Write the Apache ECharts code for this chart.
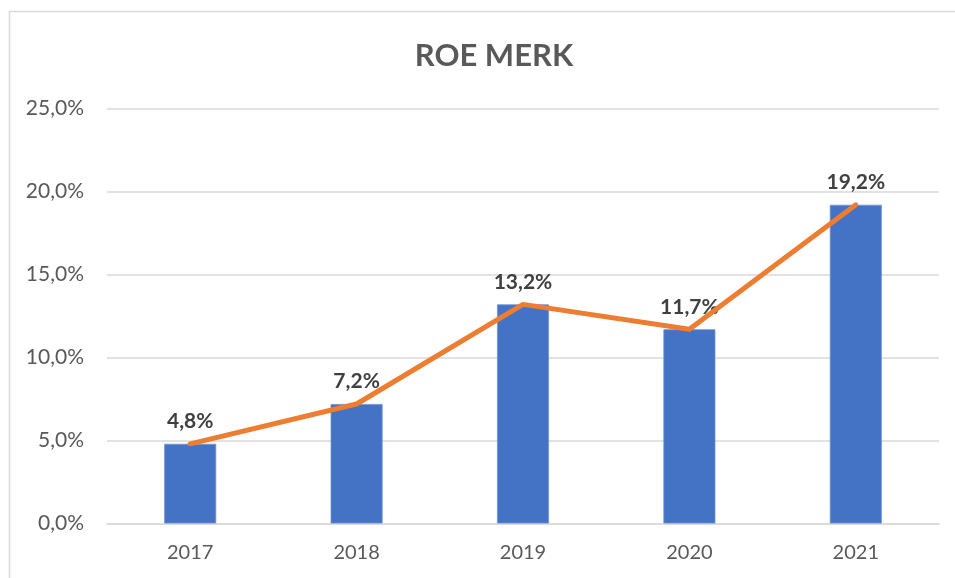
<!DOCTYPE html>
<html>
<head>
<meta charset="utf-8">
<script src="https://cdn.jsdelivr.net/npm/echarts@6/dist/echarts.min.js"></script>
<style>
html,body{margin:0;padding:0;background:#fff;}
#c{width:955px;height:578px;}
</style>
</head>
<body>
<div id="c"></div>
<script>
var categories = ['2017', '2018', '2019', '2020', '2021'];
var roeBars = [4.8, 7.2, 13.2, 11.7, 19.2];
var roeLine = [4.8, 7.2, 13.2, 11.7, 19.2];
var yTicks = [0, 5, 10, 15, 20, 25];

function pct(v) { return v.toFixed(1).replace('.', ',') + '%'; }

var chart = echarts.init(document.getElementById('c'), null, {renderer: 'canvas'});
var font = 'Lato, "Open Sans", sans-serif';
chart.setOption({
  animation: false,
  backgroundColor: '#ffffff',
  title: {
    text: 'ROE MERK',
    left: 489, top: 35, textAlign: 'center',
    textStyle: {fontFamily: font, fontSize: 31, fontWeight: 'bold', color: '#595959'}
  },
  graphic: [{
    type: 'rect', left: 7, top: 9, z: -1,
    shape: {width: 1000, height: 600},
    style: {fill: 'none', stroke: '#d9d9d9', lineWidth: 1.5}
  }],
  grid: {left: 107, right: 16, top: 108.5, height: 415, containLabel: false},
  xAxis: {
    type: 'category', data: categories,
    axisLine: {show: true, lineStyle: {color: '#d9d9d9', width: 1.5}},
    axisTick: {show: false},
    axisLabel: {fontFamily: font, fontSize: 20, color: '#595959', margin: 19}
  },
  yAxis: {
    type: 'value', min: yTicks[0], max: yTicks[yTicks.length - 1], interval: 5,
    axisLine: {show: false}, axisTick: {show: false},
    splitLine: {lineStyle: {color: '#d9d9d9', width: 1.5}},
    axisLabel: {fontFamily: font, fontSize: 21, color: '#595959', margin: 23, formatter: pct}
  },
  series: [{
    type: 'bar', data: roeBars, barWidth: 52, z: 2,
    itemStyle: {color: '#4472C4', borderColor: '#6f93d6', borderWidth: 0.8},
    label: {show: true, position: 'top', distance: 12, formatter: function (p) { return pct(p.value); },
      fontFamily: font, fontSize: 21, fontWeight: 'bold', color: '#404040'}
  }, {
    type: 'line', data: roeLine, symbol: 'none', z: 3,
    lineStyle: {color: '#ED7D31', width: 5, cap: 'round', join: 'round'}
  }]
});
</script>
</body>
</html>
